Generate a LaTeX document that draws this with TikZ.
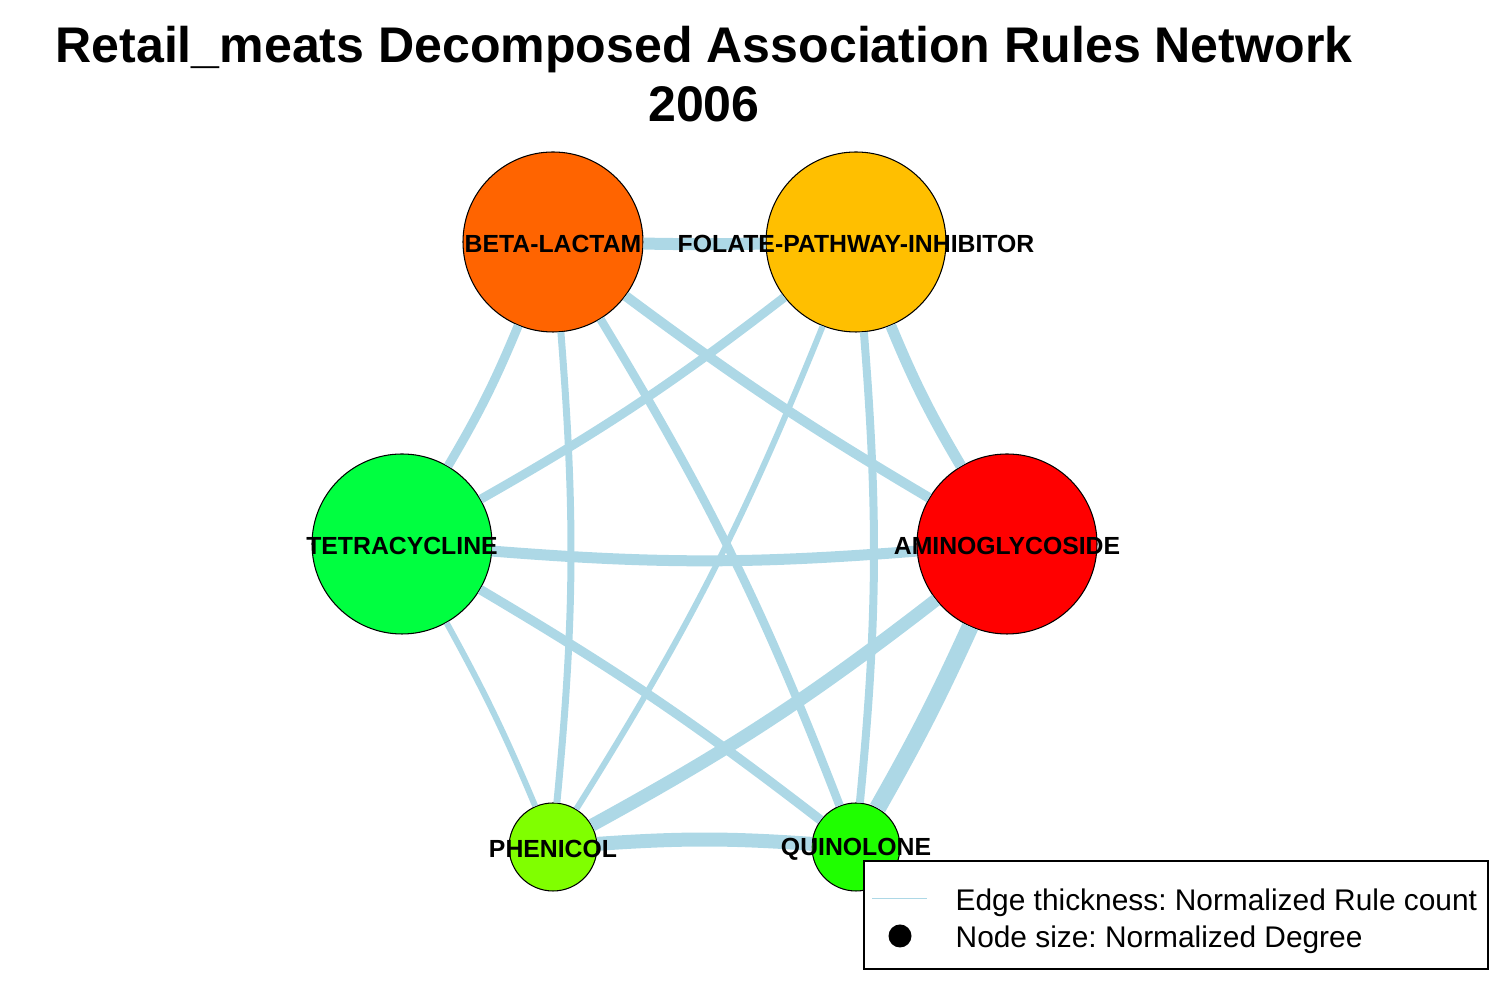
\documentclass[tikz,border=0pt]{standalone}
\usepackage{fontspec}
\setmainfont{Liberation Sans}
\usepackage{tikz}
\frenchspacing

\definecolor{edgeblue}{HTML}{ADD8E6}
\definecolor{betacol}{HTML}{FF6400}
\definecolor{folatecol}{HTML}{FFBF00}
\definecolor{tetracol}{HTML}{00FF40}
\definecolor{aminocol}{HTML}{FF0000}
\definecolor{phenicol}{HTML}{80FF00}
\definecolor{quinocol}{HTML}{1FFF00}

\begin{document}
\begin{tikzpicture}[x=1cm,y=1cm,
    drug node/.style={circle,draw=black,line width=0.3pt,inner sep=0pt},
    big/.style={minimum size=1.8cm},
    small/.style={minimum size=0.88cm},
    drug label/.style={font=\fontsize{7.05}{8}\selectfont\bfseries,inner sep=0pt,yshift=-0.2mm},
    title text/.style={font=\fontsize{14.25}{17}\selectfont\bfseries,inner sep=0pt,anchor=base},
    legend text/.style={font=\fontsize{8.5}{10}\selectfont,inner sep=0pt,anchor=base west}]

    \useasboundingbox (0,0) rectangle (15,-10);

    \node[title text] (title) at (7.04,-0.625) {Retail\_meats Decomposed Association Rules Network};
    \node[title text] (year) at (7.04,-1.215) {2006};

    \node[drug node, big, fill=betacol] (BL) at (5.53,-2.42) {};
    \node[drug node, big, fill=folatecol] (FPI) at (8.56,-2.42) {};
    \node[drug node, big, fill=tetracol] (TET) at (4.02,-5.44) {};
    \node[drug node, big, fill=aminocol] (AMI) at (10.07,-5.44) {};
    \node[drug node, small, fill=phenicol] (PHE) at (5.53,-8.47) {};
    \node[drug node, small, fill=quinocol] (QUI) at (8.56,-8.47) {};

    \path[every edge/.style={draw=edgeblue}]
    (BL) edge [bend right=1, line width=1.2mm] (FPI)
    (BL) edge [bend left=4, line width=0.9mm] (TET)
    (BL) edge [bend right=3, line width=1.0mm] (AMI)
    (BL) edge [bend left=5, line width=0.7mm] (PHE)
    (BL) edge [bend left=5, line width=0.85mm] (QUI)
    (FPI) edge [bend left=4, line width=0.9mm] (TET)
    (FPI) edge [bend right=4, line width=1.1mm] (AMI)
    (FPI) edge [bend left=5, line width=0.6mm] (PHE)
    (FPI) edge [bend left=5, line width=0.8mm] (QUI)
    (TET) edge [bend right=4.5, line width=1.1mm] (AMI)
    (TET) edge [bend left=3, line width=0.6mm] (PHE)
    (TET) edge [bend left=3.5, line width=0.95mm] (QUI)
    (AMI) edge [bend left=4.5, line width=1.3mm] (PHE)
    (AMI) edge [bend left=2.5, line width=1.7mm] (QUI)
    (PHE) edge [bend left=4, line width=1.4mm] (QUI);

    \node[drug label] (BL label) at (BL) {BETA-LACTAM};
    \node[drug label] (FPI label) at (FPI) {FOLATE-PATHWAY-INHIBITOR};
    \node[drug label] (TET label) at (TET) {TETRACYCLINE};
    \node[drug label] (AMI label) at (AMI) {AMINOGLYCOSIDE};
    \node[drug label] (PHE label) at (PHE) {PHENICOL};
    \node[drug label] (QUI label) at (QUI) {QUINOLONE};

    % legend
    \node[draw=black, fill=white, line width=0.6pt, minimum width=6.24cm, minimum height=1.08cm, inner sep=0pt] (legend) at (11.76,-9.15) {};
    \coordinate (leg line a) at (8.72,-8.985);
    \coordinate (leg line b) at (9.27,-8.985);
    \draw[edgeblue, line width=0.3pt] (leg line a) -- (leg line b);
    \node[circle, fill=black, minimum size=0.23cm, inner sep=0pt] (leg dot) at (9.00,-9.36) {};
    \node[legend text] (leg edge) at (9.55,-9.105) {Edge thickness: Normalized Rule count};
    \node[legend text] (leg size) at (9.55,-9.475) {Node size: Normalized Degree};

\end{tikzpicture}
\end{document}
